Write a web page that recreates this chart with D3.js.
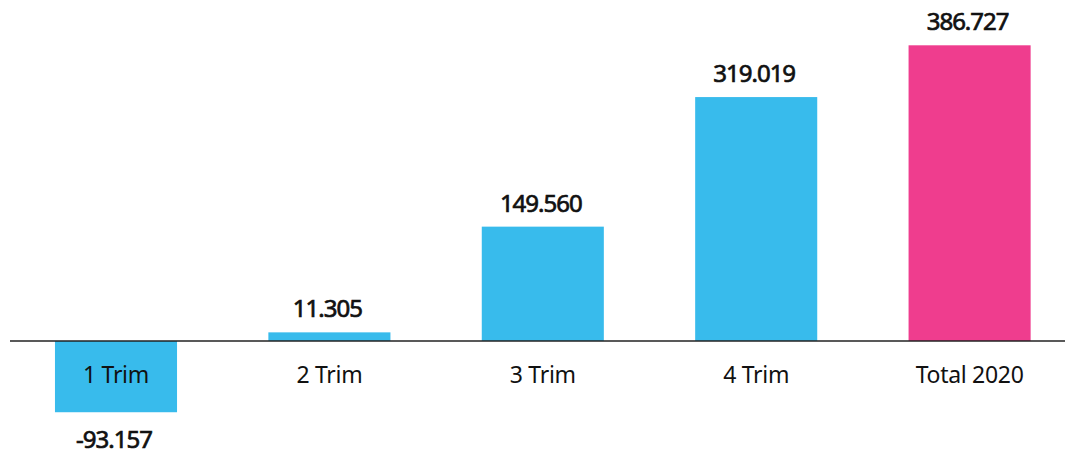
<!DOCTYPE html>
<html>
<head>
<meta charset="utf-8">
<script src="https://cdn.jsdelivr.net/npm/d3@7"></script>
<style>
  body { margin: 0; background: #fff; }
  text { font-family: "Noto Sans", sans-serif; fill: #111; }
</style>
</head>
<body>
<svg id="chart" width="1065" height="454"></svg>
<script>
const categories = ['1 Trim', '2 Trim', '3 Trim', '4 Trim', 'Total 2020'];
const values = [-93.157, 11.305, 149.560, 319.019, 386.727];
const valueLabels = ['-93.157', '11.305', '149.560', '319.019', '386.727'];
const colors = ['#38bbec', '#38bbec', '#38bbec', '#38bbec', '#ef3d8e'];

const svg = d3.select('#chart');

const x = d3.scaleBand()
  .domain(categories)
  .range([9.3, 1076.3])
  .paddingInner(0.428)
  .paddingOuter(0.214);

// zero at y=341, 386.727 at y=45.3
const y = d3.scaleLinear()
  .domain([0, 386.727])
  .range([341, 45.3]);

const data = categories.map((c, i) => ({
  cat: c, value: values[i], label: valueLabels[i], color: colors[i]
}));

svg.selectAll('rect.bar')
  .data(data)
  .enter()
  .append('rect')
  .attr('class', 'bar')
  .attr('x', d => x(d.cat))
  .attr('width', x.bandwidth())
  .attr('y', d => Math.min(y(d.value), y(0)))
  .attr('height', d => Math.abs(y(d.value) - y(0)))
  .attr('fill', d => d.color);

// zero line
svg.append('line')
  .attr('x1', 10)
  .attr('x2', 1065)
  .attr('y1', y(0))
  .attr('y2', y(0))
  .attr('stroke', '#222')
  .attr('stroke-width', 1.5);

// category labels
svg.selectAll('text.cat')
  .data(data)
  .enter()
  .append('text')
  .attr('class', 'cat')
  .attr('x', d => x(d.cat) + x.bandwidth() / 2)
  .attr('y', 383)
  .attr('text-anchor', 'middle')
  .style('font-size', '23px')
  .style('letter-spacing', '-0.3px')
  .text(d => d.cat);

// value labels (regular face thickened a little with a stroke)
svg.selectAll('text.val')
  .data(data)
  .enter()
  .append('text')
  .attr('class', 'val')
  .attr('x', d => x(d.cat) + x.bandwidth() / 2 - 2)
  .attr('y', d => d.value >= 0 ? y(d.value) - 15 : y(d.value) + 36)
  .attr('text-anchor', 'middle')
  .style('font-size', '24px')
  .style('letter-spacing', '-1px')
  .style('stroke', '#111')
  .style('stroke-width', '0.7px')
  .text(d => d.label);
</script>
</body>
</html>
